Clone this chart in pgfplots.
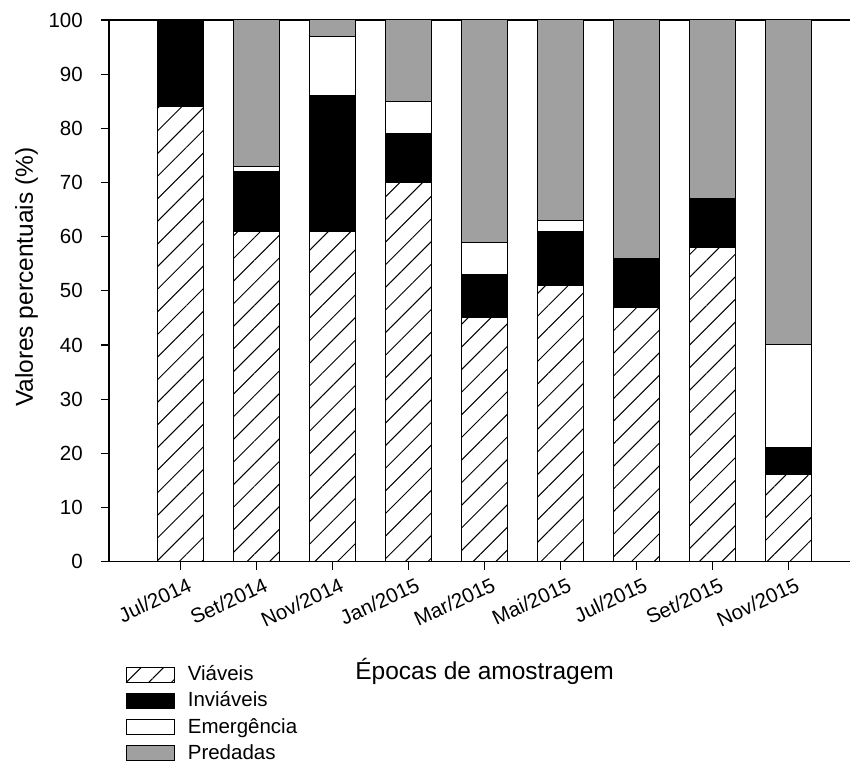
\documentclass[border=0pt]{standalone}
\usepackage{fontspec}
\setmainfont{Liberation Sans}
\usepackage{pgfplots}
\usepackage{pgfplotstable}
\pgfplotsset{compat=1.18}
\usetikzlibrary{patterns.meta}
\definecolor{predgray}{RGB}{160,160,160}

\newcommand{\tickfont}{\fontsize{20.5}{24}\selectfont}
\newcommand{\labelfont}{\fontsize{24.5}{29}\selectfont}

% x  Viaveis  Inviaveis  Emergencia  Predadas
\pgfplotstableread{
x V  I  E  P
1 84 16 0  0
2 61 11 1  27
3 61 25 11 3
4 70 9  6  15
5 45 8  6  41
6 51 10 2  37
7 47 9  0  44
8 58 9  0  33
9 16 5  19 60
}\epocas

\begin{document}
\begin{tikzpicture}
\begin{axis}[
  scale only axis, width=742pt, height=542pt,
  xmin=0.0526, xmax=9.816, ymin=0, ymax=100,
  axis lines*=left,
  axis line style={-, line width=1.2pt},
  ybar stacked, bar width=0.605,
  xtick={1,...,9},
  xticklabels={Jul/2014,Set/2014,Nov/2014,Jan/2015,Mar/2015,Mai/2015,Jul/2015,Set/2015,Nov/2015},
  ytick={0,10,...,100},
  tick align=outside, major tick length=8pt,
  tick style={black, line width=1.2pt},
  /pgf/number format/assume math mode=true,
  x tick label style={font=\tickfont, inner sep=0pt, xshift=6pt, yshift=-7pt, rotate=25, anchor=north east},
  y tick label style={font=\tickfont, inner sep=0pt, xshift=-18pt, anchor=east},
  xlabel={Épocas de amostragem},
  xlabel style={font=\labelfont, at={(rel axis cs:0.5067,-0.2177)}, anchor=base},
  ylabel={Valores percentuais (\%)},
  ylabel style={font=\labelfont, at={(rel axis cs:-0.1024,0.525)}, anchor=base},
  legend style={at={(rel axis cs:0.0229,-0.19)}, anchor=north west,
    draw=none, fill=none, inner sep=0pt, outer sep=0pt,
    font=\tickfont, row sep=6.3pt, column sep=13pt,
    nodes={inner sep=0pt, text height=16pt, text depth=4pt}},
  legend cell align=left,
  clip=false,
]
\pgfplotsset{
  every axis plot/.append style={draw=black, line width=1pt,
    legend image code/.code={\draw[##1, line width=1pt] (0pt,-7.5pt) rectangle (48pt,7.5pt);}},
}
\addplot[fill=white, pattern={Lines[angle=45, distance=16pt, line width=1pt]}] table[x=x, y=V] {\epocas};
\addlegendentry{Viáveis}
\addplot[fill=black] table[x=x, y=I] {\epocas};
\addlegendentry{Inviáveis}
\addplot[fill=white] table[x=x, y=E] {\epocas};
\addlegendentry{Emergência}
\addplot[fill=predgray] table[x=x, y=P] {\epocas};
\addlegendentry{Predadas}
\draw[line width=1.2pt] (rel axis cs:0,1) -- (rel axis cs:1,1);
\end{axis}
\path[use as bounding box] (-109pt,-201pt) rectangle (742pt,562pt);
\end{tikzpicture}
\end{document}
